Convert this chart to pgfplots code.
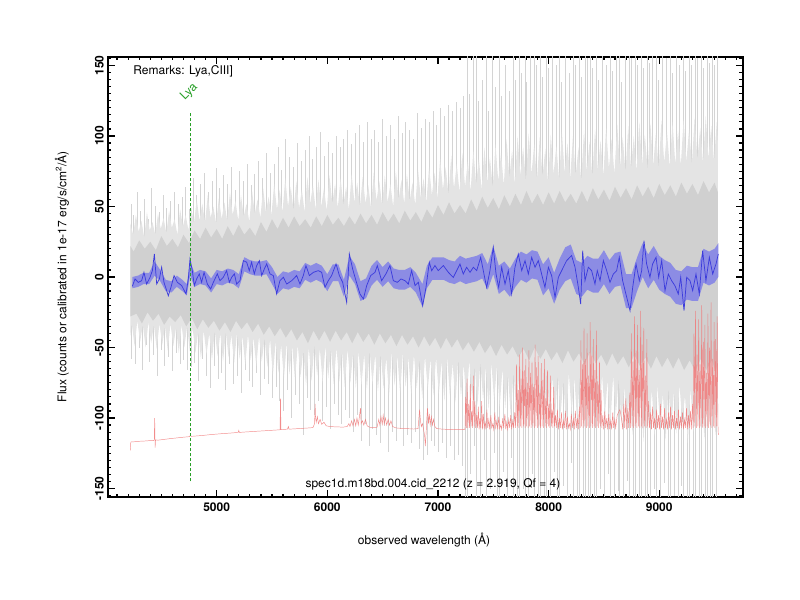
\documentclass[border=0pt]{standalone}
\usepackage{pgfplots}
\pgfplotsset{compat=1.18}
\usepackage{fontspec}
\setmainfont{TeX Gyre Heros}
\definecolor{coregrey}{RGB}{208,208,208}
\definecolor{hazegrey}{RGB}{228,228,228}
\definecolor{spikegrey}{RGB}{212,212,212}
\definecolor{bandblue}{RGB}{140,140,228}
\definecolor{lineblue}{RGB}{60,60,220}
\definecolor{skyred}{RGB}{240,120,120}
\definecolor{lyagreen}{RGB}{40,160,40}
\begin{document}
\begin{tikzpicture}
\useasboundingbox (0,0) rectangle (600pt,450pt);
\begin{axis}[
  at={(81pt,77.25pt)}, anchor=south west,
  width=476pt, height=330pt, scale only axis,
  xmin=4018, xmax=9754, ymin=-156, ymax=156,
  xtick={5000,6000,7000,8000,9000},
  ytick={-150,-100,...,150},
  minor xtick={4100,4200,...,9700},
  minor ytick={-155,-150,...,155},
  axis line style={line width=1.5pt},
  tick style={black, line width=0.9pt},
  major tick length=5pt, minor tick length=2.5pt,
  ticklabel style={font=\fontsize{9}{10}\selectfont\bfseries},
  /pgf/number format/assume math mode=true,
  /pgf/number format/1000 sep={},
  yticklabel style={rotate=90, anchor=south, inner sep=3pt},
  xticklabel style={inner sep=4pt},
]
% grey spikes of the flux spectrum
\addplot[ycomb, color=spikegrey, line width=0.35pt] table {
x y
4225 52
4232 -58
4248 44
4262 -62
4281 60
4296 -50
4310 47
4327 -66
4345 55
4361 -48
4378 41
4392 -60
4410 63
4428 -55
4445 50
4460 -70
4478 46
4497 -52
4515 58
4530 -63
4548 49
4566 -57
4583 54
4600 -67
4618 60
4633 -54
4650 52
4668 -62
4685 57
4702 -59
4720 64
4738 -66
4752 48
4768 -64
4785 70
4801 -61
4818 58
4835 -74
4852 66
4870 -58
4888 74
4905 -70
4921 60
4940 -79
4958 68
4975 -63
4992 77
5010 -72
5027 63
5045 -68
5062 72
5080 -80
5098 66
5115 -62
5132 78
5150 -76
5168 62
5185 -70
5203 75
5220 -82
5238 68
5255 -66
5273 80
5290 -74
5308 65
5326 -78
5343 73
5360 -68
5378 82
5396 -84
5413 70
5430 -72
5448 88
5466 -76
5483 74
5500 -86
5518 80
5535 -78
5553 92
5570 -88
5588 76
5606 -95
5623 98
5640 -80
5658 85
5676 -100
5693 78
5710 -84
5728 95
5745 -90
5763 82
5781 -112
5798 90
5816 -86
5833 100
5850 -94
5868 84
5886 -98
5903 92
5920 -88
5938 103
5956 -102
5973 86
5990 -92
6008 96
6026 -108
6043 88
6060 -90
6078 100
6096 -98
6113 92
6130 -104
6148 98
6166 -94
6183 104
6200 -100
6218 94
6235 -110
6253 102
6270 -98
6288 108
6306 -116
6323 96
6340 -104
6358 110
6376 -120
6393 98
6410 -108
6428 104
6446 -112
6463 96
6480 -118
6498 112
6516 -106
6533 100
6550 -124
6568 108
6586 -110
6603 98
6620 -116
6638 114
6656 -108
6673 102
6690 -120
6708 110
6726 -112
6743 104
6760 -118
6778 98
6796 -110
6813 116
6830 -122
6848 106
6866 -130
6883 112
6900 -126
6918 110
6936 -116
6953 118
6970 -120
6988 108
7006 -124
7023 120
7040 -118
7058 114
7076 -128
7093 122
7110 -120
7128 118
7146 -130
7163 124
7180 -126
7198 120
7216 -134
7233 128
7250 -160
7262 160
7262 -160
7280 130
7296 -140
7315 160
7331 -120
7348 160
7348 -160
7366 125
7383 -160
7400 140
7418 -130
7436 160
7436 -160
7452 118
7470 -150
7488 160
7505 -125
7522 135
7540 -160
7558 160
7558 -160
7575 128
7592 -138
7610 150
7628 -160
7645 132
7662 -128
7680 160
7680 -160
7697 140
7715 -160
7732 160
7732 -160
7750 145
7768 -150
7785 160
7785 -160
7802 138
7820 -160
7838 160
7855 -140
7872 160
7872 -160
7890 150
7908 -160
7925 160
7925 -160
7942 142
7960 -155
7978 160
7978 -160
7995 148
8012 -160
8030 160
8048 -138
8065 150
8082 -160
8100 160
8100 -160
8118 138
8135 -148
8152 160
8170 -160
8188 145
8205 -132
8222 160
8222 -160
8240 150
8258 -160
8275 160
8275 -160
8292 142
8310 -160
8328 160
8328 -160
8345 155
8362 -160
8380 160
8380 -160
8398 148
8415 -160
8432 160
8432 -160
8450 140
8468 -150
8485 160
8502 -160
8520 150
8538 -140
8555 160
8555 -160
8572 146
8590 -160
8608 160
8625 -152
8642 160
8642 -160
8660 138
8678 -160
8695 160
8712 -145
8730 160
8730 -160
8748 155
8765 -160
8782 160
8782 -160
8800 150
8818 -160
8835 160
8835 -160
8852 148
8870 -160
8888 160
8888 -160
8905 152
8922 -160
8940 160
8958 -150
8975 160
8975 -160
8992 140
9010 -160
9028 160
9045 -146
9062 155
9080 -160
9098 160
9098 -160
9115 145
9132 -155
9150 160
9168 -160
9185 150
9202 -148
9220 160
9220 -160
9238 146
9255 -160
9272 160
9272 -160
9290 150
9308 -160
9325 160
9325 -160
9342 155
9360 -160
9378 160
9378 -160
9395 148
9412 -160
9430 160
9430 -160
9448 152
9465 -160
9482 160
9482 -160
9500 150
9518 -160
9528 160
};
% grey haze of dense spikes
\addplot[fill=hazegrey, draw=none] coordinates {
(4220,38)(4245,30)(4270,44)(4295,32)(4320,40)(4345,28)(4370,46)(4395,33)(4420,39)(4445,30)(4470,45)(4495,34)(4520,42)(4545,31)(4570,47)(4595,35)(4620,41)(4645,30)(4670,48)(4695,36)(4720,44)(4745,33)(4770,50)(4795,38)
(4820,55)(4845,40)(4870,52)(4895,39)(4920,58)(4945,42)(4970,50)(4995,38)(5020,56)(5045,41)(5070,53)(5095,40)(5120,60)(5145,44)(5170,54)(5195,40)(5220,58)(5245,43)(5270,52)(5295,39)(5320,61)(5345,45)(5370,55)(5395,42)(5420,63)(5445,46)(5470,57)
(5495,44)(5520,66)(5545,48)(5570,62)(5595,46)(5620,70)(5645,50)(5670,64)(5695,47)(5720,68)(5745,49)(5770,62)(5795,46)(5820,71)(5845,52)(5870,65)(5895,48)(5920,69)(5945,50)(5970,63)(5995,47)(6020,72)
(6045,52)(6070,66)(6095,49)(6120,70)(6145,51)(6170,64)(6195,48)(6220,73)(6245,53)(6270,67)(6295,50)(6320,71)(6345,52)(6370,65)(6395,49)(6420,74)(6445,54)(6470,68)(6495,51)(6520,72)(6545,53)(6570,66)(6595,50)(6620,75)(6645,55)(6670,69)(6695,52)(6720,73)(6745,54)(6770,67)(6795,51)(6820,76)(6845,56)(6870,70)(6895,53)(6920,78)(6945,58)
(6970,74)(6995,56)(7020,84)(7045,62)(7070,78)(7095,58)(7120,86)(7145,63)(7170,80)(7195,60)(7220,88)(7245,64)(7270,82)(7295,61)(7320,90)(7345,66)(7370,84)(7395,62)(7420,92)(7445,67)(7470,85)(7495,63)(7520,94)(7545,68)
(7570,88)(7595,65)(7620,98)(7645,70)(7670,90)(7695,66)(7720,100)(7745,72)(7770,92)(7795,68)(7820,102)(7845,73)(7870,94)(7895,69)(7920,99)(7945,71)(7970,91)(7995,67)(8020,101)(8045,73)(8070,93)(8095,69)(8120,103)(8145,74)(8170,95)(8195,70)(8220,100)(8245,72)(8270,92)(8295,68)(8320,104)(8345,75)(8370,96)(8395,71)(8420,105)(8445,76)(8470,97)(8495,72)
(8520,106)(8545,77)(8570,98)(8595,73)(8620,108)(8645,78)(8670,99)(8695,74)(8720,107)(8745,77)(8770,100)(8795,75)(8820,110)(8845,80)(8870,101)(8895,76)(8920,109)(8945,79)(8970,102)(8995,77)(9020,111)(9045,81)(9070,103)(9095,78)(9120,110)(9145,80)(9170,104)(9195,79)(9220,112)(9245,82)(9270,105)(9295,80)(9320,113)(9345,83)(9370,106)(9395,81)(9420,114)(9445,84)(9470,107)(9495,82)(9520,110)(9530,95)
(9530,-95)(9508,-112)(9483,-78)(9458,-104)(9433,-80)(9408,-115)(9383,-82)(9358,-106)(9333,-77)(9308,-110)(9283,-79)(9258,-118)(9233,-84)(9208,-103)(9183,-76)(9158,-111)(9133,-81)(9108,-107)(9083,-78)(9058,-116)(9033,-83)(9008,-105)(8983,-77)(8958,-113)(8933,-80)(8908,-108)(8883,-79)(8858,-117)(8833,-84)(8808,-104)(8783,-76)(8758,-112)(8733,-81)(8708,-106)(8683,-78)
(8658,-104)(8633,-72)(8608,-98)(8583,-70)(8558,-106)(8533,-73)(8508,-99)(8483,-69)(8458,-103)(8433,-71)(8408,-97)(8383,-68)(8358,-107)(8333,-74)(8308,-100)(8283,-70)(8258,-102)(8233,-72)(8208,-96)(8183,-68)(8158,-105)(8133,-73)(8108,-98)(8083,-69)(8058,-101)(8033,-71)(8008,-95)(7983,-67)(7958,-104)(7933,-72)(7908,-97)(7883,-68)(7858,-100)(7833,-70)(7808,-94)(7783,-66)(7758,-102)(7733,-71)(7708,-96)(7683,-67)(7658,-99)(7633,-69)(7608,-93)
(7583,-65)(7558,-92)(7533,-63)(7508,-88)(7483,-61)(7458,-94)(7433,-64)(7408,-87)(7383,-60)(7358,-91)(7333,-63)(7308,-86)(7283,-59)(7258,-90)(7233,-62)(7208,-85)(7183,-58)(7158,-89)(7133,-61)(7108,-84)(7083,-57)(7058,-88)(7033,-60)(7008,-83)
(6983,-57)(6958,-84)(6933,-58)(6908,-80)(6883,-56)(6858,-86)(6833,-58)(6808,-79)(6783,-55)(6758,-83)(6733,-57)(6708,-78)(6683,-54)(6658,-82)(6633,-56)(6608,-77)(6583,-53)(6558,-84)(6533,-57)(6508,-79)(6483,-54)(6458,-81)(6433,-55)(6408,-76)(6383,-52)(6358,-80)(6333,-55)(6308,-77)(6283,-53)(6258,-79)(6233,-54)(6208,-75)(6183,-51)(6158,-78)(6133,-53)(6108,-74)
(6083,-50)(6058,-76)(6033,-51)(6008,-72)(5983,-49)(5958,-75)(5933,-51)(5908,-70)(5883,-48)(5858,-74)(5833,-50)(5808,-77)(5783,-52)(5758,-71)(5733,-48)(5708,-73)(5683,-49)(5658,-69)(5633,-47)(5608,-72)(5583,-48)(5558,-68)(5533,-46)(5508,-70)
(5483,-44)(5458,-64)(5433,-43)(5408,-60)(5383,-42)(5358,-63)(5333,-43)(5308,-59)(5283,-41)(5258,-62)(5233,-42)(5208,-58)(5183,-40)(5158,-61)(5133,-41)(5108,-57)(5083,-39)(5058,-60)(5033,-40)(5008,-56)(4983,-38)(4958,-59)(4933,-40)(4908,-55)(4883,-38)(4858,-58)(4833,-39)(4808,-54)
(4783,-36)(4758,-53)(4733,-35)(4708,-50)(4683,-34)(4658,-54)(4633,-36)(4608,-49)(4583,-33)(4558,-52)(4533,-35)(4508,-48)(4483,-33)(4458,-51)(4433,-34)(4408,-47)(4383,-32)(4358,-50)(4333,-34)(4308,-46)(4283,-31)(4258,-49)(4233,-33)(4220,-42)
} -- cycle;
% grey dense core
\addplot[fill=coregrey, draw=none] coordinates {
(4220,22)(4250,18)(4300,26)(4350,20)(4400,25)(4450,19)(4500,29)(4550,22)(4600,27)(4650,21)(4700,30)(4750,24)(4800,33)(4850,27)(4900,35)(4950,28)(5000,34)(5050,27)(5100,36)(5150,29)(5200,37)(5250,30)(5300,35)(5350,29)(5400,39)(5450,32)(5500,41)(5550,34)(5600,42)(5650,35)(5700,43)(5750,36)(5800,41)(5850,35)(5900,43)(5950,36)(6000,44)(6050,37)(6100,42)(6150,36)(6200,43)(6250,37)(6300,45)(6350,38)(6400,44)(6450,37)(6500,46)(6550,39)(6600,45)(6650,38)(6700,47)(6750,40)(6800,46)(6850,39)(6900,48)(6950,42)(7000,51)(7050,44)(7100,53)(7150,45)(7200,51)(7250,45)(7300,55)(7350,47)(7400,57)(7450,49)(7500,56)(7550,48)(7600,58)(7650,50)(7700,59)(7750,51)(7800,61)(7850,52)(7900,59)(7950,51)(8000,60)(8050,52)(8100,61)(8150,53)(8200,59)(8250,52)(8300,61)(8350,53)(8400,63)(8450,55)(8500,62)(8550,54)(8600,64)(8650,56)(8700,63)(8750,55)(8800,65)(8850,57)(8900,64)(8950,56)(9000,66)(9050,58)(9100,65)(9150,57)(9200,67)(9250,59)(9300,66)(9350,58)(9400,68)(9450,60)(9500,67)(9530,60)
(9530,-60)(9510,-67)(9475,-59)(9425,-66)(9375,-58)(9325,-67)(9275,-59)(9225,-66)(9175,-57)(9125,-65)(9075,-57)(9025,-64)(8975,-56)(8925,-65)(8875,-57)(8825,-63)(8775,-55)(8725,-64)(8675,-56)(8625,-62)(8575,-54)(8525,-63)(8475,-55)(8425,-61)(8375,-53)(8325,-62)(8275,-54)(8225,-60)(8175,-52)(8125,-61)(8075,-53)(8025,-59)(7975,-51)(7925,-58)(7875,-50)(7825,-59)(7775,-51)(7725,-57)(7675,-49)(7625,-55)(7575,-48)(7525,-56)(7475,-48)(7425,-54)(7375,-46)(7325,-53)(7275,-46)(7225,-52)(7175,-44)(7125,-50)(7075,-43)(7025,-51)(6975,-43)(6925,-49)(6875,-42)(6825,-50)(6775,-42)(6725,-48)(6675,-41)(6625,-49)(6575,-41)(6525,-47)(6475,-40)(6425,-48)(6375,-40)(6325,-46)(6275,-39)(6225,-47)(6175,-39)(6125,-45)(6075,-38)(6025,-46)(5975,-38)(5925,-45)(5875,-38)(5825,-47)(5775,-39)(5725,-45)(5675,-37)(5625,-43)(5575,-36)(5525,-42)(5475,-35)(5425,-41)(5375,-33)(5325,-39)(5275,-32)(5225,-37)(5175,-31)(5125,-39)(5075,-32)(5025,-38)(4975,-31)(4925,-36)(4875,-30)(4825,-37)(4775,-29)(4725,-35)(4675,-27)(4625,-32)(4575,-28)(4525,-34)(4475,-26)(4425,-31)(4375,-25)(4325,-33)(4275,-26)(4220,-28)
} -- cycle;
% red sky spectrum
\addplot[color=skyred, line width=0.35pt, opacity=0.85] table {
x y
4220 -123
4224 -117
4260 -116.8
4300 -116.5
4350 -116.3
4400 -116
4430 -116
4436 -115.5
4440 -100
4444 -121
4448 -115.5
4470 -115.7
4520 -115.2
4580 -114.6
4640 -114.1
4700 -113.6
4755 -113.2
4764 -112
4770 -113
4820 -112.7
4880 -112.3
4940 -111.8
5000 -111.4
5060 -111
5120 -110.7
5195 -110.2
5200 -108.8
5206 -110.2
5260 -109.9
5320 -109.6
5380 -109.3
5440 -109
5500 -108.7
5560 -108.4
5573 -108.3
5577 -86
5581 -108.2
5600 -108.1
5640 -107.9
5648 -106
5654 -107.9
5700 -107.7
5760 -107.4
5820 -107.1
5870 -106.8
5885 -104
5890 -90
5894 -100
5900 -103
5910 -99
5920 -104
5935 -101
5950 -104.5
5970 -103
5990 -105.5
6020 -106
6060 -106.2
6100 -106.3
6140 -106.5
6180 -106
6195 -104
6205 -106
6220 -102
6232 -105.5
6245 -101
6257 -105.5
6268 -100
6280 -105
6292 -98
6300 -93
6306 -104
6318 -102
6330 -105
6345 -101
6360 -105.5
6380 -106.5
6420 -106.8
6450 -106.5
6465 -101
6475 -105
6485 -99
6497 -104.5
6505 -98
6515 -104
6525 -100
6537 -105
6550 -101
6562 -105
6575 -102
6590 -106
6620 -107
6660 -107.3
6700 -107.5
6740 -107.6
6780 -107.8
6820 -107.5
6828 -100
6834 -94
6842 -102
6850 -106
6860 -104
6870 -108
6880 -113
6886 -120
6892 -112
6900 -100
6906 -93
6914 -104
6922 -97
6930 -105
6940 -99
6950 -105
6960 -101
6972 -106
6990 -107.5
7030 -107.8
7070 -108
7110 -108
7150 -108.2
7190 -108.3
7230 -108.2
7244 -108
7250 -85
7256 -107
7263 -72
7270 -107
7278 -90
7285 -107
7292 -76
7299 -106
7306 -95
7313 -107
7320 -70
7327 -106
7334 -88
7341 -107
7350 -98
7357 -107
7365 -92
7372 -108
7380 -100
7387 -107
7395 -88
7402 -108
7410 -97
7418 -107
7426 -103
7434 -108
7442 -94
7450 -107
7460 -101
7468 -108
7478 -98
7486 -107
7496 -104
7504 -108
7514 -96
7522 -107
7532 -102
7540 -108
7550 -99
7558 -107.5
7568 -105
7576 -108
7586 -100
7594 -107
7605 -97
7613 -108
7622 -103
7630 -108
7640 -101
7648 -107
7658 -98
7666 -108
7676 -102
7684 -107
7694 -96
7702 -107
7710 -62
7717 -106
7724 -80
7731 -107
7738 -55
7745 -106
7752 -72
7759 -107
7766 -50
7773 -106
7780 -66
7787 -107
7794 -58
7801 -106
7808 -75
7815 -107
7822 -52
7829 -106
7836 -68
7843 -107
7850 -60
7857 -106
7864 -78
7871 -107
7878 -48
7885 -106
7892 -64
7899 -107
7906 -56
7913 -106
7920 -82
7927 -107
7934 -61
7941 -106
7948 -73
7955 -107
7962 -58
7969 -106
7976 -86
7983 -107
7990 -66
7997 -106
8004 -90
8011 -107
8018 -70
8025 -106
8032 -94
8039 -107
8046 -78
8053 -106
8062 -98
8070 -107
8080 -94
8088 -108
8098 -100
8106 -107
8116 -96
8124 -108
8134 -102
8142 -107
8152 -95
8160 -108
8170 -99
8178 -107
8188 -104
8196 -108
8206 -97
8214 -107
8224 -101
8232 -108
8242 -95
8250 -107
8260 -100
8268 -108
8278 -92
8285 -107
8292 -45
8299 -106
8306 -62
8313 -107
8320 -36
8327 -106
8334 -58
8341 -107
8348 -40
8355 -106
8362 -70
8369 -107
8376 -32
8383 -106
8390 -55
8397 -107
8404 -44
8411 -106
8418 -66
8425 -107
8432 -38
8439 -106
8446 -74
8453 -107
8460 -60
8467 -106
8474 -80
8481 -107
8490 -98
8498 -108
8508 -95
8516 -107
8526 -100
8534 -108
8544 -97
8552 -107
8562 -102
8570 -108
8580 -96
8588 -107
8598 -101
8606 -107
8620 -98
8632 -96
8645 -94
8660 -101
8670 -108
8680 -90
8688 -107
8698 -86
8706 -108
8716 -93
8724 -107
8734 -82
8741 -107
8748 -40
8755 -106
8762 -60
8769 -107
8776 -28
8783 -106
8790 -52
8797 -107
8804 -34
8811 -106
8818 -66
8825 -107
8832 -24
8839 -106
8846 -48
8853 -107
8860 -36
8867 -106
8874 -70
8881 -107
8888 -44
8895 -106
8904 -88
8912 -107
8922 -96
8930 -108
8940 -92
8948 -107
8958 -100
8966 -108
8976 -94
8984 -107
8994 -98
9002 -108
9012 -90
9020 -107
9030 -99
9038 -108
9048 -93
9056 -107
9066 -101
9074 -108
9084 -96
9092 -107
9102 -92
9110 -108
9120 -98
9128 -107
9138 -95
9146 -108
9156 -100
9164 -107
9174 -94
9182 -108
9192 -99
9200 -107
9210 -96
9218 -108
9228 -101
9236 -107
9246 -93
9254 -108
9264 -98
9272 -107
9282 -95
9290 -108
9300 -90
9307 -107
9314 -40
9321 -106
9328 -24
9335 -107
9342 -55
9349 -106
9356 -30
9363 -107
9370 -62
9377 -106
9384 -20
9391 -107
9398 -46
9405 -106
9412 -34
9419 -107
9426 -68
9433 -106
9440 -26
9447 -107
9454 -50
9461 -106
9468 -18
9475 -107
9482 -58
9489 -106
9496 -32
9503 -107
9510 -44
9517 -106
9524 -28
9530 -104
9534 -112
};
% blue error band
\addplot[fill=bandblue, draw=none] coordinates {
(4238,0)(4290,1)(4340,3)(4390,3)(4440,11)(4490,5)(4540,-2)(4590,-3)(4640,1)(4690,-2)(4730,-5)(4760,11)(4800,3)(4850,5)(4900,4)(4950,-1)(5000,5)(5050,4)(5100,6)(5150,5)(5200,2)(5250,14)(5300,12)(5350,11)(5400,11)(5450,12)(5500,7)(5550,0)(5600,4)(5650,3)(5700,5)(5750,4)(5800,10)(5850,8)(5900,10)(5950,8)(6000,2)(6050,9)(6100,9)(6150,-2)(6200,15)(6250,9)(6300,-3)(6350,-1)(6400,8)(6450,12)(6500,7)(6550,11)(6600,6)(6650,5)(6700,5)(6750,7)(6800,3)(6860,-5)(6900,8)(6950,14)(7000,14)(7050,14)(7100,12)(7150,11)(7200,15)(7250,13)(7300,14)(7350,15)(7400,17)(7450,9)(7500,22)(7550,8)(7600,11)(7650,6)(7700,13)(7750,18)(7800,16)(7850,19)(7900,18)(7950,9)(8000,14)(8050,3)(8100,13)(8150,21)(8200,23)(8250,12)(8300,10)(8350,15)(8400,13)(8450,13)(8500,19)(8550,12)(8600,17)(8650,18)(8700,2)(8750,2)(8800,14)(8850,24)(8900,16)(8950,22)(9000,15)(9050,12)(9100,10)(9150,5)(9200,4)(9250,8)(9300,7)(9350,7)(9400,20)(9450,18)(9500,20)(9534,24)
(9534,0)(9500,-4)(9450,-6)(9400,-4)(9350,-17)(9300,-17)(9250,-16)(9200,-20)(9150,-19)(9100,-14)(9050,-12)(9000,-9)(8950,-2)(8900,-8)(8850,0)(8800,-10)(8750,-22)(8700,-22)(8650,-6)(8600,-7)(8550,-12)(8500,-5)(8450,-11)(8400,-11)(8350,-9)(8300,-14)(8250,-12)(8200,-1)(8150,-3)(8100,-9)(8050,-19)(8000,-8)(7950,-13)(7900,-2)(7850,-1)(7800,-4)(7750,-2)(7700,-7)(7650,-14)(7600,-9)(7550,-12)(7500,2)(7450,-9)(7400,-1)(7350,-3)(7300,-4)(7250,-5)(7200,-3)(7150,-5)(7100,-4)(7050,-2)(7000,-2)(6950,-2)(6900,-8)(6860,-21)(6800,-11)(6750,-7)(6700,-9)(6650,-9)(6600,-8)(6550,-3)(6500,-7)(6450,-2)(6400,-6)(6350,-15)(6300,-17)(6250,-5)(6200,1)(6150,-14)(6100,-3)(6050,-3)(6000,-10)(5950,-4)(5900,-2)(5850,-4)(5800,-2)(5750,-8)(5700,-7)(5650,-9)(5600,-8)(5550,-12)(5500,-5)(5450,2)(5400,1)(5350,1)(5300,2)(5250,4)(5200,-8)(5150,-5)(5100,-4)(5050,-6)(5000,-5)(4950,-11)(4900,-6)(4850,-5)(4800,-7)(4760,1)(4730,-13)(4690,-10)(4640,-7)(4590,-11)(4540,-10)(4490,-3)(4440,1)(4390,-5)(4340,-5)(4290,-7)(4238,-8)
} -- cycle;
% blue smoothed flux
\addplot[color=lineblue, line width=0.55pt] table {
x y
4238 -6.6
4262 -1.4
4292 -3.8
4322 -2.6
4343 3.3
4367 -5
4398 -0.2
4419 4.5
4437 16.4
4458 -5
4482 -1.4
4503 6.9
4524 -3.8
4563 -13.3
4587 -7.3
4615 1
4645 -3.8
4684 -6.1
4723 -12
4744 -1.4
4759 12.8
4780 4.5
4798 -6.1
4819 -1.4
4843 2.2
4864 -3.8
4886 3.3
4916 -5
4946 -8.5
4970 -3.8
5006 2.2
5030 -2.6
5060 -0.2
5090 4.5
5115 -3.8
5136 -0.2
5160 2.2
5181 -5
5211 -2.6
5241 11.6
5271 10.5
5295 4.5
5316 10.5
5340 2.2
5362 8.1
5386 11.6
5407 1
5431 5.7
5452 9.3
5482 2.2
5512 1
5542 -12
5572 -2.6
5603 -0.2
5633 -5
5678 -2.6
5723 1
5753 -5
5783 1
5807 8.1
5838 1
5874 3.3
5919 4.5
5949 3.3
5979 -7.3
6009 -2.6
6039 1
6079 9.3
6109 1
6139 -3.8
6175 -18
6199 16.4
6229 5.7
6259 -2.6
6295 -12
6326 -15.6
6356 -6.1
6392 1
6431 3.3
6452 8.1
6491 -2.6
6530 2.2
6566 8.1
6597 -2.6
6633 -3.8
6666 -1.4
6702 -2.6
6732 -5
6762 4.5
6793 -6.1
6823 -3.8
6862 -20.4
6892 -7.3
6922 10.5
6943 4.5
6973 8.1
7003 4.5
7049 8.1
7094 3.3
7139 -0.3
7169 4.5
7199 9.2
7229 2.1
7259 6.9
7290 3.3
7320 6.9
7350 4.5
7386 13.9
7416 2.1
7440 -7.4
7470 4.5
7500 21.1
7525 2.1
7549 -7.4
7576 6.9
7606 -5
7636 4.5
7666 -12.1
7696 6.9
7726 16.3
7757 4.5
7787 11.6
7817 2.1
7847 13.9
7877 6.9
7907 11.6
7937 2.1
7967 -7.4
7998 6.9
8028 0.9
8058 -14.5
8088 -0.3
8133 6.9
8163 11.6
8208 15.2
8239 6.9
8269 -7.4
8290 -19.2
8308 18.7
8329 -2.6
8359 6.9
8389 4.5
8419 -5
8440 4.5
8465 -2.6
8495 11.6
8525 4.5
8555 -3.8
8585 2.1
8615 4.5
8639 14
8669 -2.6
8699 -12.1
8736 -23.9
8760 -7.4
8790 9.2
8820 -2.6
8841 4.5
8862 25.8
8886 9.2
8916 -0.2
8940 9.2
8971 14
8995 -0.2
9022 11.6
9052 -9.7
9082 2.1
9112 -2.6
9142 -6.2
9172 -12.1
9194 -0.2
9224 -23.9
9248 -0.2
9278 -2.6
9302 -9.7
9332 2.1
9362 -12.1
9392 18.7
9422 -2.6
9453 14
9483 2.1
9513 9.2
9534 16.3
};
% Lya marker
\addplot[color=lyagreen, line width=0.6pt, dash pattern=on 2.25pt off 1.5pt] coordinates {(4764,-145) (4764,116.5)};
\node[rotate=45, text=lyagreen, font=\fontsize{9}{10}\selectfont, inner sep=0pt] at (axis cs:4752,131) {Lya};
\node[anchor=west, font=\fontsize{9}{10}\selectfont] at (axis cs:4205,146) {Remarks: Lya,CIII]};
\node[font=\fontsize{9}{10}\selectfont] at (axis cs:6955,-147) {spec1d.m18bd.004.cid\_2212 (z = 2.919, Qf = 4)};
\end{axis}
\node[font=\fontsize{9}{10}\selectfont] at (318pt,45pt) {observed wavelength (Å)};
\node[rotate=90, font=\fontsize{9}{10}\selectfont] at (46.5pt,242.5pt) {Flux (counts or calibrated in 1e-17 erg/s/cm\textsuperscript{2}/Å)};
\end{tikzpicture}
\end{document}
